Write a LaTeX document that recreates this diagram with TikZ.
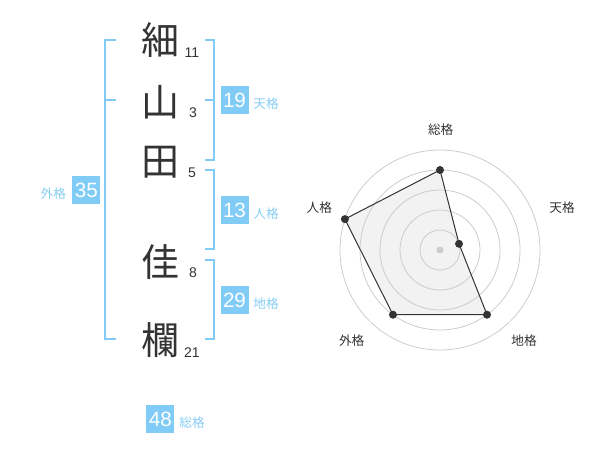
\documentclass[tikz,border=0pt]{standalone}
\usepackage{fontspec}
\usepackage{tikz}
\setmainfont{Liberation Sans}
\newfontfamily\jp{Noto Sans CJK JP}
\usetikzlibrary{positioning}
\definecolor{sky}{HTML}{80CCF6}
\definecolor{skytext}{HTML}{86CDF3}
\definecolor{ink}{HTML}{333333}
\definecolor{ringgray}{HTML}{CCCCCC}
\definecolor{area}{HTML}{F2F2F2}
\tikzstyle{kanji} = [text=ink, font=\jp\fontsize{28.5}{28.5}\selectfont, inner sep=0pt]
\tikzstyle{stroke} = [text=ink, font=\fontsize{10.5}{10.5}\selectfont, inner sep=0pt]
\tikzstyle{score} = [
    fill=sky,
    text=white,
    minimum width=21pt,
    minimum height=21pt,
    inner sep=0pt,
    font=\fontsize{15.5}{15.5}\selectfont
]
\tikzstyle{tag} = [text=skytext, font=\jp\fontsize{9.5}{9.5}\selectfont, inner sep=0pt]
\tikzstyle{bracket} = [draw=sky, line width=1.5pt]
\tikzstyle{ring} = [draw=ringgray, line width=0.6pt]
\tikzstyle{axis} = [text=ink, font=\jp\fontsize{9.5}{9.5}\selectfont, inner sep=0pt]
\tikzstyle{dot} = [circle, fill=ink, minimum size=6pt, inner sep=0pt]

\begin{document}
\begin{tikzpicture}[x=0.75pt, y=-0.75pt]
    \useasboundingbox (0, 0) rectangle (600, 470);

    % Name.
    \node (kanji 1) [kanji] at (160, 40) {細};
    \node (kanji 2) [kanji] at (160, 102) {山};
    \node (kanji 3) [kanji] at (160, 162) {田};
    \node (kanji 4) [kanji] at (160, 262) {佳};
    \node (kanji 5) [kanji] at (160, 340) {欄};

    \node (stroke 1) [stroke] at (192, 53) {11};
    \node (stroke 2) [stroke] at (193, 113) {3};
    \node (stroke 3) [stroke] at (192, 173) {5};
    \node (stroke 4) [stroke] at (193, 273) {8};
    \node (stroke 5) [stroke] at (192, 353) {21};

    % Brackets.
    \coordinate (outer top) at (116, 40);
    \coordinate (outer mid) at (116, 100);
    \coordinate (outer bottom) at (116, 339);
    \draw [bracket] (outer top) -- ++(-11, 0) |- (outer bottom);
    \draw [bracket] (outer mid) -- ++(-11, 0);

    \coordinate (ten top) at (205, 40);
    \coordinate (ten mid) at (205, 100);
    \coordinate (ten bottom) at (205, 160);
    \draw [bracket] (ten top) -- ++(9, 0) |- (ten bottom);
    \draw [bracket] (ten mid) -- ++(9, 0);

    \coordinate (jin top) at (205, 170);
    \coordinate (jin bottom) at (205, 249);
    \draw [bracket] (jin top) -- ++(9, 0) |- (jin bottom);

    \coordinate (chi top) at (205, 260);
    \coordinate (chi bottom) at (205, 339);
    \draw [bracket] (chi top) -- ++(9, 0) |- (chi bottom);

    % Scores.
    \node (ten box) [score] at (234.5, 100.3) {19};
    \node (jin box) [score] at (234.5, 210.2) {13};
    \node (chi box) [score] at (234.5, 300.3) {29};
    \node (gai box) [score] at (86.3, 190.3) {35};
    \node (sou box) [score] at (160.3, 419) {48};

    \node (ten tag) [tag] at (266, 103.5) {天格};
    \node (jin tag) [tag] at (266, 213.5) {人格};
    \node (chi tag) [tag] at (266, 303.5) {地格};
    \node (gai tag) [tag] at (53.3, 194) {外格};
    \node (sou tag) [tag] at (192, 422.5) {総格};

    % Radar.
    \begin{scope}[shift={(440, 250)}, y=0.75pt]
        \coordinate (sou) at (90:80);
        \coordinate (ten) at (18:20);
        \coordinate (chi) at (-54:80);
        \coordinate (gai) at (-126:80);
        \coordinate (jin) at (162:100);

        \fill [area] (sou) -- (ten) -- (chi) -- (gai) -- (jin) -- cycle;
        \foreach \r in {20, 40, 60, 80, 100}
            \draw [ring] (0, 0) circle (\r);
        \fill [ringgray] (0, 0) circle (3.5);
        \draw [ink, line width=0.75pt]
            (sou) -- (ten) -- (chi) -- (gai) -- (jin) -- cycle;

        \node (sou dot) [dot] at (sou) {};
        \node (ten dot) [dot] at (ten) {};
        \node (chi dot) [dot] at (chi) {};
        \node (gai dot) [dot] at (gai) {};
        \node (jin dot) [dot] at (jin) {};

        \node (sou axis) [axis] at (0.7, 120) {総格};
        \node (ten axis) [axis] at (122, 42) {天格};
        \node (chi axis) [axis] at (84, -91) {地格};
        \node (gai axis) [axis] at (-88.3, -91) {外格};
        \node (jin axis) [axis] at (-120.7, 42) {人格};
    \end{scope}
\end{tikzpicture}
\end{document}
